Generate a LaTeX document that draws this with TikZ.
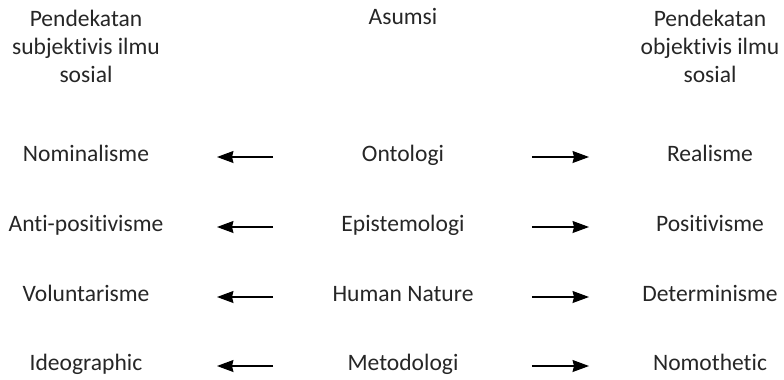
\documentclass[tikz,border=0pt]{standalone}
\usepackage{fontspec}
\setmainfont[Ligatures=NoCommon]{Carlito}
\usetikzlibrary{positioning, arrows.meta}

\begin{document}
\begin{tikzpicture}[
x=0.02cm, y=-0.02cm,
label/.style={inner sep=0pt, anchor=mid, text=black!85, font=\fontsize{13.4}{15.9}\selectfont},
head/.style={inner sep=0pt, anchor=north, align=center, text=black!85, font=\fontsize{13.4}{15.9}\selectfont},
toleft/.style={-{Stealth[length=0.33cm, width=0.24cm, inset=0.03cm]}, line width=0.7pt, shorten <=2.6cm, shorten >=2.62cm},
toright/.style={-{Stealth[length=0.33cm, width=0.24cm, inset=0.03cm]}, line width=0.7pt, shorten <=2.58cm, shorten >=2.42cm},
]
\useasboundingbox (0,0) rectangle (784,379);

% Headers
\node[head] (subj) at (86,10) {Pendekatan\\subjektivis ilmu\\sosial};
\node[label] (asumsi) at (403,20) {Asumsi};
\node[head] (obj) at (710,10) {Pendekatan\\objektivis ilmu\\sosial};

% Rows
\node[label] (nom) at (86,157) {Nominalisme};
\node[label] (onto) at (403,157) {Ontologi};
\node[label] (real) at (710,157) {Realisme};

\node[label] (anti) at (86,227) {Anti-positivisme};
\node[label] (epis) at (403,227) {Epistemologi};
\node[label] (posi) at (710,227) {Positivisme};

\node[label] (volu) at (86,297) {Voluntarisme};
\node[label] (human) at (403,297) {Human Nature};
\node[label] (deter) at (710,297) {Determinisme};

\node[label] (ideo) at (86,366) {Ideographic};
\node[label] (meto) at (403,366) {Metodologi};
\node[label] (nomo) at (710,366) {Nomothetic};

% Arrows
\draw[toleft] (onto.mid) -- (nom.mid);
\draw[toright] (onto.mid) -- (real.mid);
\draw[toleft] (epis.mid) -- (anti.mid);
\draw[toright] (epis.mid) -- (posi.mid);
\draw[toleft] (human.mid) -- (volu.mid);
\draw[toright] (human.mid) -- (deter.mid);
\draw[toleft] (meto.mid) -- (ideo.mid);
\draw[toright] (meto.mid) -- (nomo.mid);

\end{tikzpicture}
\end{document}
